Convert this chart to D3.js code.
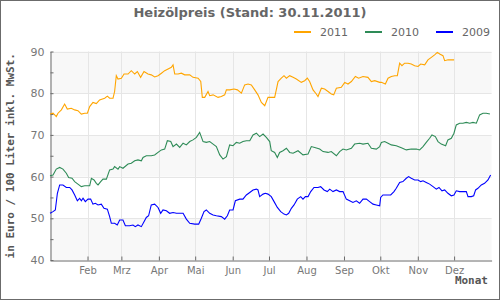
<!DOCTYPE html>
<html>
<head>
<meta charset="utf-8">
<script src="https://cdn.jsdelivr.net/npm/d3@7"></script>
<style>
  body { margin: 0; background: #fff; }
  svg text { font-family: "DejaVu Sans", Verdana, sans-serif; }
</style>
</head>
<body>
<div id="chart"></div>
<script>
// day of year -> price (Euro / 100 l)
var days2011 = [0,2.5,5.2,6.6,9.4,12.1,14.3,17.6,20.4,23.1,25.9,28.7,30.9,32.8,35.5,38.3,41,45.2,47.4,49.3,52.1,53.4,54.8,56.2,59,61.2,64.5,67.2,70,72.2,74.9,77.7,81,83.7,86.5,89.3,
  92.1,94.8,97.6,100.3,101.7,103.1,105.8,108.6,111.3,115.5,118.2,122.4,124.6,125.9,127.9,130.6,132,134.8,138.9,141.6,144.4,145.8,148.5,152.1,154.9,158.2,160.9,163.7,166.4,169.2,171.9,174.7,177.5,180.2,
  182.9,185.7,188.5,191.2,193.4,195.4,198.1,200.9,203.6,207.7,210.5,212.7,214.6,217.4,220.1,221.5,224.3,227,229.8,232.5,234.5,236.7,240.8,243.6,246.3,249.1,252.4,255.1,258.7,262.8,265.6,268.4,272.5,
  273.9,277.2,279.4,282.1,284.9,287.1,289,290.9,293.1,295.9,298.6,301.4,304.2,306.4,309.7,312.4,315.2,317.9,320.1,322.1,324.8,326.2,329,334];
var values2011 = [75,75.2,74.4,75.2,76,77.4,76.2,76.4,76,75.8,75,75.2,75.2,76.8,77.8,77.5,78.4,78.8,79.3,78.8,78.8,80.4,84.2,83.4,83.6,84.6,84.6,85.4,84.6,85.2,83.8,85.2,84.6,84.4,83.9,84.2,
  84.8,85.4,85.8,86.2,86.8,84.6,84.6,84.8,84.4,84.4,83.8,83.6,82.8,79,79,80.4,79.4,79.6,79,79.2,79.6,80.8,80.8,81,80.8,80,82,82.2,82,80.8,79.6,77.8,77,79,
  79,79,82.8,83.6,84.2,83.6,84.2,83.8,83.4,82.6,83,83.6,82.8,80.8,79.8,79.2,81.2,81,80.4,79.8,79.6,81.2,81.4,82.6,82.2,82.8,84,83.6,84,83.8,82.8,83,82.6,
  82.6,82.2,83.6,84,84.2,84.2,87.2,86.6,87.2,87.2,87,86.6,86.4,87,86.8,88,88.6,89.2,89.8,89.4,89,87.8,88,88];

var days2010 = [0,2.5,5.2,8,10.7,13.5,15.4,18.2,20.4,23.1,25.9,28.7,32.8,34.2,36.4,38.3,39.7,41.9,43.8,46.6,49.3,52.1,53.4,56.2,57.6,60.3,64.5,67.2,70,72.7,75.5,76.9,79.6,83.7,86.5,90.1,
  92.1,94.8,97,99.8,101.7,104.5,107.2,110,112.7,115.5,118.2,121,123.7,126.5,129.2,132,134.8,137.5,140.3,143,145.8,148.5,151.3,154,156.8,159.5,162.3,165.1,167.8,170.6,173.3,176.1,178.8,181.6,
  182.9,185.7,187.9,189.8,192.6,195.4,198.1,200.9,205,209.1,213.3,216,218.8,222.9,225.7,229.8,232.5,236.7,239.4,242.2,244.9,249.1,251.8,256,258.7,262.8,265.6,269.7,272.5,
  273.9,276.6,279.4,282.1,286.2,290.4,294.5,298.6,302.8,305.5,308.3,311,313.8,315.7,318.5,320.7,323.4,327,328.9,331.7,333.9,335.8,338.6,341.3,344.1,346.9,349.6,352.4,355.1,357.9,360.6,363.6];
var values2010 = [60.2,60.4,61.8,62.2,61.8,60.8,59.8,59.6,58.8,58.2,57.6,57.8,57.8,59.6,59.2,58.4,58,58.8,59.4,59.4,61.6,61.8,62.4,61.8,62.4,62,63,63.2,63.8,64,63.8,64.6,65,65,65.2,66,
  66.4,66.6,68.6,68.4,67.2,67.8,67,68,67.6,68.4,68.8,69.4,70.6,68.4,68.2,68.4,67.8,67.2,65.2,64.2,64.8,67.6,67.4,68.2,68,68.4,68.6,68.6,70,70.4,69.6,70.2,69.4,68.4,
  66.2,65.8,64.6,65.8,66.2,66.8,65.8,65.6,66.2,65.2,65.4,67.2,67,66.6,66,65.8,66,65,66,66.6,66.4,66.8,67.8,68,67.8,68,66.8,66.6,67.2,
  68.2,68.4,68,67.6,67.4,66.9,66.4,66.6,66.6,66.4,67.2,68.2,69.2,70,69.6,68.4,67.8,67.4,68.8,69.2,70.4,72.4,72.8,72.8,73,72.8,73,72.8,74.8,75.2,75.2,75];

var days2009 = [0,2.5,4.4,6.1,8,10.7,13.5,16.3,18.2,20.4,22.6,24.5,25.9,27.3,29.2,31.4,33.6,35.5,37.5,39.7,42.4,44.6,47.4,49.3,50.7,53.4,55.6,57.6,60.3,62.3,65.8,68.6,70.5,72.7,75.5,77.7,79.6,81.5,83.7,86.5,
  89.3,91.5,93.4,96.2,98.9,101.7,104.5,107.2,110,112.7,115.5,119.6,122.9,125.1,127.3,129.2,132,134.8,137.5,141.6,144.4,146.6,148.5,151.3,153.2,156.8,159.5,162.3,165.1,167.8,170.6,171.9,173.3,176.1,178,180.2,
  182.9,185.2,187.9,190.7,193.4,195.4,197.3,199.5,201.7,204.4,207.2,209.1,211.1,213.3,215.5,218.2,221.5,223.7,226.5,229.2,231.2,233.9,236.7,239.4,242.2,244.9,247.7,250.4,253.2,255.9,258.7,261.5,264.2,267,269.7,272.5,
  273.3,275.2,278,281.6,284.3,286.2,289,291.7,294.5,296.4,298.6,301.4,304.2,306.4,308.3,311,313.8,316.6,319.3,321.5,324,326.2,328.9,331.7,333.9,335.8,338.6,342.2,344.1,345.5,348.2,350.2,351.8,353.7,356.5,359.2,362,364.2];
var values2009 = [51.2,51.6,52,56,58,58,57.4,57.4,56.8,55.6,54.2,54.8,54.2,54.8,54,54.6,54.6,53.4,53.6,53.2,53.4,52.4,52.2,50.4,48.8,48.8,48.4,49.6,49.6,48.2,48.2,48.4,48,48.4,48,49.2,50.2,50.6,53.2,53.4,
  52.6,51.2,52,51.8,51.2,51.4,51.2,51.2,51.2,49.8,48.8,48.6,48.6,50,51.6,52,51.2,50.8,50.6,50.4,49.8,50.6,52,52,54.2,54.6,54.6,55.6,56.2,56.8,57,56.8,55.2,55.8,56,55.8,
  55.2,54,52.6,51.6,51,50.8,51.2,52.4,53.2,54.6,55.2,54.6,55.2,55.2,56.4,57.4,57.4,57.6,56.8,56.4,57,56.4,56.8,56.4,56.4,54.6,54.2,53.8,54.2,53.6,54.6,54.6,54,53.4,53.2,53,
  55,55.6,55.6,55.6,56.4,57.2,58.6,58.8,59.6,60,59.6,59.2,59.2,58.8,59,58.6,58.2,57.6,57,57.4,56.6,56.8,56,55.4,55.6,56.6,56.4,56.4,56.4,55.2,55.2,55.4,56.8,57.2,58,58.4,59.2,60.4];

var monthLabels = ["Feb", "Mrz", "Apr", "Mai", "Jun", "Jul", "Aug", "Sep", "Okt", "Nov", "Dez"];
var monthStarts = [31, 59, 90, 120, 151, 181, 212, 243, 273, 304, 334];
var yTicks = [40, 45, 50, 55, 60, 65, 70, 75, 80, 85, 90];
var seriesNames = ["2011", "2010", "2009"];
var seriesColors = ["#ffa500", "#2e8b57", "#0000ff"];

var width = 500, height = 300;
var plotLeft = 50, plotRight = 491.6, plotTop = 51.5, plotBottom = 260;

var svg = d3.select("#chart").append("svg")
  .attr("width", width)
  .attr("height", height);

// outer frame
svg.append("rect")
  .attr("x", 0.5).attr("y", 0.5)
  .attr("width", width - 1).attr("height", height - 1)
  .attr("fill", "#fff")
  .attr("stroke", "#6b6b6b");

var x = d3.scaleLinear().domain([0, 365]).range([plotLeft, plotRight]);
var y = d3.scaleLinear().domain([40, 90]).range([plotBottom, plotTop]);

// alternating bands
var bandStarts = [40, 60, 80];
svg.selectAll(".band")
  .data(bandStarts)
  .enter().append("rect")
  .attr("x", plotLeft)
  .attr("width", plotRight - plotLeft)
  .attr("y", function(d) { return y(d + 10); })
  .attr("height", function(d) { return y(d) - y(d + 10); })
  .attr("fill", "#f8f8f8");

// grid
svg.selectAll(".hgrid")
  .data(yTicks.filter(function(d) { return d % 10 == 0 && d > 40; }))
  .enter().append("line")
  .attr("x1", plotLeft).attr("x2", plotRight)
  .attr("y1", function(d) { return Math.round(y(d)) + 0.5; })
  .attr("y2", function(d) { return Math.round(y(d)) + 0.5; })
  .attr("stroke", "#e6e6e6");

svg.selectAll(".vgrid")
  .data(monthStarts)
  .enter().append("line")
  .attr("x1", function(d) { return Math.round(x(d)) + 0.5; })
  .attr("x2", function(d) { return Math.round(x(d)) + 0.5; })
  .attr("y1", plotTop).attr("y2", plotBottom)
  .attr("stroke", "#e6e6e6");

// axes
var xAxis = d3.axisBottom(x)
  .tickValues(monthStarts)
  .tickFormat(function(d, i) { return monthLabels[i]; })
  .tickSizeInner(-4).tickSizeOuter(0).tickPadding(6);

var gx = svg.append("g")
  .attr("transform", "translate(0," + (plotBottom + 0.5) + ")")
  .call(xAxis);

var yAxis = d3.axisLeft(y)
  .tickValues(yTicks)
  .tickFormat(function(d) { return d % 10 == 0 ? d : ""; })
  .tickSizeInner(-3).tickSizeOuter(0).tickPadding(6);

var gy = svg.append("g")
  .attr("transform", "translate(" + (plotLeft + 0.5) + ",0)")
  .call(yAxis);

[gx, gy].forEach(function(g) {
  g.select(".domain").attr("stroke", "#6b6b6b");
  g.selectAll(".tick line").attr("stroke", "#6b6b6b");
  g.selectAll(".tick text")
    .attr("fill", "#777")
    .style("font-family", "DejaVu Sans")
    .style("font-size", "10px");
});
gy.selectAll(".tick text").style("font-size", "11px");

// lines
var allDays = [days2011, days2010, days2009];
var allValues = [values2011, values2010, values2009];

var line = d3.line()
  .x(function(d) { return x(d[0]); })
  .y(function(d) { return y(d[1]); });

seriesNames.forEach(function(name, i) {
  var pts = allDays[i].map(function(d, j) { return [d, allValues[i][j]]; });
  svg.append("path")
    .datum(pts)
    .attr("fill", "none")
    .attr("stroke", seriesColors[i])
    .attr("stroke-width", 1.1)
    .attr("d", line);
});

// title
svg.append("text")
  .attr("x", 250).attr("y", 17)
  .attr("text-anchor", "middle")
  .attr("fill", "#666")
  .style("font-size", "13px")
  .style("font-weight", "bold")
  .text("Heizölpreis (Stand: 30.11.2011)");

// legend
var legendX = [294, 365, 436];
var legend = svg.selectAll(".legend")
  .data(seriesNames)
  .enter().append("g")
  .attr("transform", function(d, i) { return "translate(" + legendX[i] + ",32)"; });

legend.append("line")
  .attr("x1", 0).attr("x2", 17)
  .attr("stroke", function(d, i) { return seriesColors[i]; })
  .attr("stroke-width", 2);

legend.append("text")
  .attr("x", 26).attr("y", 4)
  .attr("fill", "#666")
  .style("font-size", "11px")
  .text(function(d) { return d; });

// axis titles
svg.append("text")
  .attr("transform", "translate(14," + ((plotTop + plotBottom) / 2) + ") rotate(-90)")
  .attr("text-anchor", "middle")
  .attr("fill", "#555")
  .style("font-family", "DejaVu Sans Mono")
  .style("font-weight", "bold")
  .style("font-size", "11px")
  .text("in Euro / 100 Liter inkl. MwSt.");

svg.append("text")
  .attr("x", 488).attr("y", 284)
  .attr("text-anchor", "end")
  .attr("fill", "#555")
  .style("font-family", "DejaVu Sans Mono")
  .style("font-weight", "bold")
  .style("font-size", "11px")
  .text("Monat");
</script>
</body>
</html>
